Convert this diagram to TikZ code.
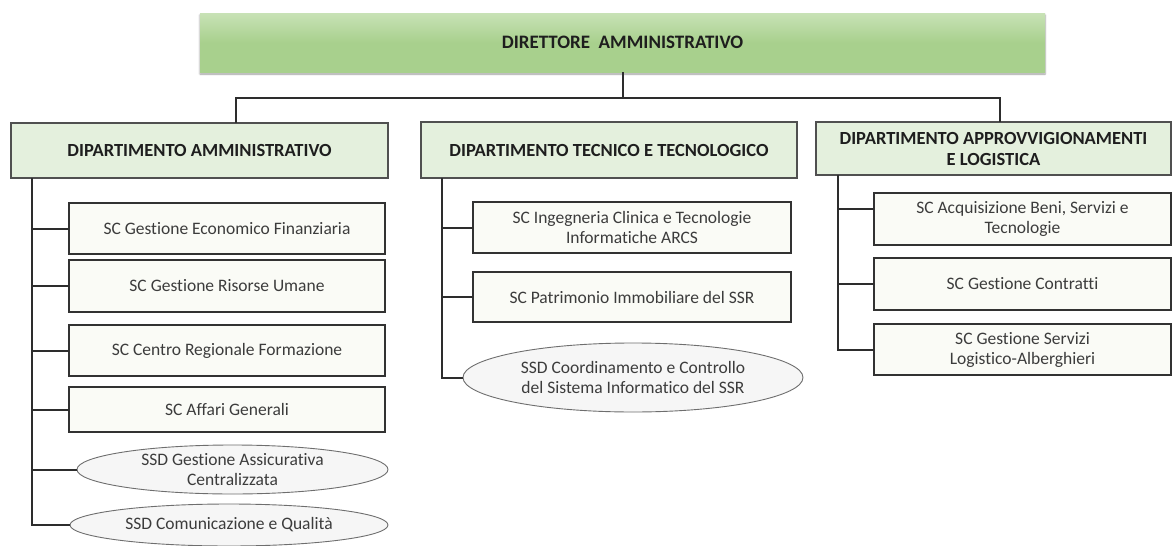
\documentclass[tikz,border=0pt]{standalone}
\usepackage{fontspec}
\setmainfont[Ligatures=NoCommon]{Carlito}
\usepackage{tikz}
\usetikzlibrary{positioning,calc,shapes.geometric,shadows.blur}
\definecolor{dirFill}{RGB}{168,208,141}
\definecolor{dirTop}{RGB}{200,226,182}
\definecolor{depFill}{RGB}{228,240,221}
\definecolor{depLine}{RGB}{80,80,80}
\definecolor{unitFill}{RGB}{250,251,246}
\definecolor{unitLine}{RGB}{50,50,50}
\definecolor{ssdFill}{RGB}{246,246,246}
\definecolor{ssdLine}{RGB}{110,110,110}
\definecolor{txtDark}{RGB}{30,30,30}
\definecolor{txtGray}{RGB}{60,60,60}
\definecolor{wire}{RGB}{45,45,45}
\tikzset{
  dir/.style={rectangle, draw=none, top color=dirTop, bottom color=dirFill,
              middle color=dirFill, minimum width=845pt, minimum height=59pt,
              inner sep=0pt, outer sep=0pt, text=txtDark,
              font=\fontsize{19}{22}\selectfont\bfseries,
              blur shadow={shadow xshift=0pt, shadow yshift=-2pt, shadow blur steps=4}},
  dep/.style={rectangle, draw=depLine, line width=1.8pt, fill=depFill,
              inner sep=0pt, outer sep=0pt, align=center, text=txtDark,
              font=\fontsize{18.5}{21}\selectfont\bfseries},
  unit/.style={rectangle, draw=unitLine, line width=1.8pt, fill=unitFill,
               inner sep=0pt, outer sep=0pt, align=center, text=txtGray,
               font=\fontsize{17.5}{20}\selectfont},
  ssd/.style={ellipse, draw=ssdLine, line width=0.9pt, fill=ssdFill,
              inner sep=0pt, outer sep=0pt, align=center, text=txtGray,
              font=\fontsize{17.5}{20}\selectfont},
  wire/.style={draw=wire, line width=2pt},
}
\begin{document}
\begin{tikzpicture}[x=1pt, y=-1pt]
  \useasboundingbox (0,0) rectangle (1173,546);

  % direzione
  \node[dir] (dirAmm) at (622.5,42.5) {DIRETTORE~~AMMINISTRATIVO};

  % dipartimenti
  \node[dep, minimum width=377pt, minimum height=55pt] (depAmm) at (199.5,150.5)
       {DIPARTIMENTO AMMINISTRATIVO};
  \node[dep, minimum width=376pt, minimum height=56pt] (depTec) at (609,150)
       {DIPARTIMENTO TECNICO E TECNOLOGICO};
  \node[dep, minimum width=355pt, minimum height=53pt] (depApp) at (993.5,148.5)
       {DIPARTIMENTO APPROVVIGIONAMENTI\\E LOGISTICA};

  % strutture del dipartimento amministrativo
  \node[unit, minimum width=316pt, minimum height=51pt] (gef) at (227,228.5)
       {SC Gestione Economico Finanziaria};
  \node[unit, minimum width=316pt, minimum height=52pt] (gru) at (227,286)
       {SC Gestione Risorse Umane};
  \node[unit, minimum width=316pt, minimum height=51pt] (crf) at (227,350.5)
       {SC Centro Regionale Formazione};
  \node[unit, minimum width=316pt, minimum height=45pt] (agg) at (227,409.5)
       {SC Affari Generali};
  \node[ssd, minimum width=311pt, minimum height=49pt] (gac) at (232.5,469.5)
       {SSD Gestione Assicurativa\\Centralizzata};
  \node[ssd, minimum width=318pt, minimum height=42pt] (coq) at (229,525)
       {SSD Comunicazione e Qualità};

  % strutture del dipartimento tecnico
  \node[unit, minimum width=318pt, minimum height=51pt] (ici) at (632,227.5)
       {SC Ingegneria Clinica e Tecnologie\\Informatiche ARCS};
  \node[unit, minimum width=318pt, minimum height=50pt] (pim) at (632,297)
       {SC Patrimonio Immobiliare del SSR};
  \node[ssd, minimum width=340pt, minimum height=69pt] (csi) at (633,377.5)
       {SSD Coordinamento e Controllo\\del Sistema Informatico del SSR};

  % strutture del dipartimento approvvigionamenti
  \node[unit, minimum width=297pt, minimum height=52pt] (abs) at (1022.5,219)
       {SC Acquisizione Beni, Servizi e\\Tecnologie};
  \node[unit, minimum width=297pt, minimum height=52pt] (gco) at (1022.5,284)
       {SC Gestione Contratti};
  \node[unit, minimum width=297pt, minimum height=51pt] (gsl) at (1022.5,349.5)
       {SC Gestione Servizi\\Logistico-Alberghieri};

  % punti di attacco
  \coordinate (busL) at (236,98);
  \coordinate (busR) at (1000,98);
  \coordinate (ammTrunk) at (32,178);
  \coordinate (tecTrunk) at (442,178);
  \coordinate (appTrunk) at (838,175);

  % collegamenti dalla direzione
  \draw[wire] (dirAmm.south -| 622.5,0) -- (622.5,98);
  \draw[wire] (depAmm.north -| busL) -- (busL) -- (busR) -- (depApp.north -| busR);

  % collegamenti interni
  \draw[wire] (ammTrunk) |- (coq.west);
  \foreach \u in {gef,gru,crf,agg,gac}
    \draw[wire] (ammTrunk |- \u.west) -- (\u.west);
  \draw[wire] (tecTrunk) |- (csi.west);
  \foreach \u in {ici,pim}
    \draw[wire] (tecTrunk |- \u.west) -- (\u.west);
  \draw[wire] (appTrunk) |- (gsl.west);
  \draw[wire] (appTrunk |- 0,209) -- (abs.west |- 0,209);
  \draw[wire] (appTrunk |- gco.west) -- (gco.west);
\end{tikzpicture}
\end{document}
